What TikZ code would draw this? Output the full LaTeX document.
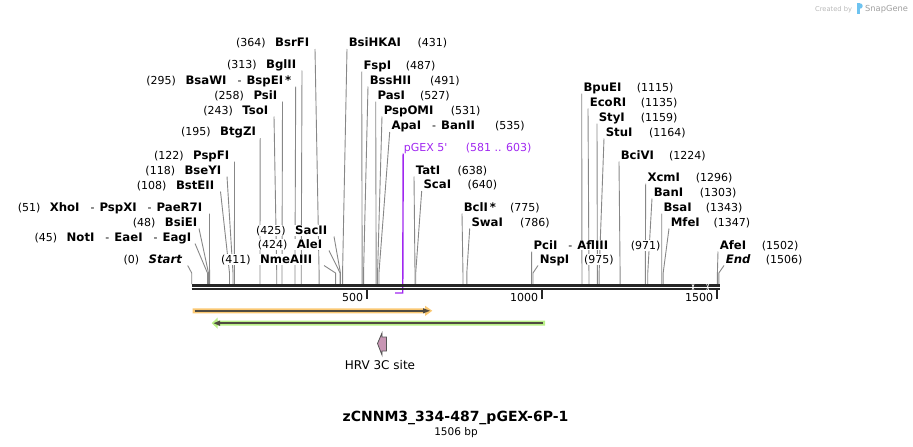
\documentclass[tikz,border=0pt]{standalone}
\usepackage{fontspec}
\setmainfont{DejaVu Sans}
\usetikzlibrary{calc,backgrounds}
\definecolor{lineg}{RGB}{135,135,135}
\definecolor{bbone}{RGB}{38,38,38}
\definecolor{prim}{RGB}{160,40,240}
\definecolor{orf}{RGB}{250,200,115}
\definecolor{grf}{RGB}{185,240,135}
\definecolor{fdark}{RGB}{80,75,65}
\definecolor{hrv}{RGB}{200,150,180}
\definecolor{hrvline}{RGB}{85,85,85}
\definecolor{sgblue}{RGB}{110,195,240}
\tikzset{
  lab/.style={font=\fontsize{11}{13}\selectfont, inner sep=0.6pt, fill=white},
  siteline/.style={draw=lineg, line width=0.9pt},
  primlab/.style={font=\fontsize{11}{13}\selectfont, text=prim, inner sep=0.6pt},
  primline/.style={draw=prim, line width=1.4pt},
  bbline/.style={draw=bbone, line width=2.7pt},
  tickline/.style={draw=bbone, line width=2pt},
  ticklab/.style={font=\fontsize{11}{13}\selectfont, inner sep=0pt},
  featline/.style={draw=fdark, line width=2pt},
}
\newcommand\nm[1]{{\fontsize{11.7}{13}\selectfont\bfseries #1}}
\newcommand\Lsite[7]{%
  \node[lab, anchor=base east] (#1) at (#2,#3) {(#4)\hspace{9.5pt}#5};
  \begin{pgfonlayer}{background}
    \draw[siteline] ($(#1.base east)+(#7,2.5)$) -- ({191.7+0.35*#6},273) -- ({191.7+0.35*#6},284);
  \end{pgfonlayer}}
\newcommand\Rsite[6]{%
  \node[lab, anchor=base west] (#1) at (#2,#3) {#4};
  \node[lab, anchor=base west] (#1n) at (#5,#3) {(#6)};
  \begin{pgfonlayer}{background}
    \draw[siteline] ($(#1.base west)+(-1,2.5)$) -- ({191.7+0.35*#6},273) -- ({191.7+0.35*#6},284);
  \end{pgfonlayer}}
\newcommand\dsep{\hspace{11pt}-\hspace{5pt}}
\begin{document}
\begin{tikzpicture}[x=1pt,y=-1pt]
\useasboundingbox (0,0) rectangle (913,447);
% left labels
\Lsite{BsrFI}{310}{46.5}{364}{\nm{BsrFI}}{364}{5}
\Lsite{BglII}{297}{68}{313}{\nm{BglII}}{313}{5}
\Lsite{BsaWI}{292}{84}{295}{\nm{BsaWI}\dsep\nm{BspEI\,*}}{295}{3.7}
\Lsite{PsiI}{278}{99}{258}{\nm{PsiI}}{258}{4.5}
\Lsite{TsoI}{269}{114}{243}{\nm{TsoI}}{243}{5}
\Lsite{BtgZI}{256.7}{135.5}{195}{\nm{BtgZI}}{195}{3.5}
\Lsite{PspFI}{230}{159}{122}{\nm{PspFI}}{122}{4.5}
\Lsite{BseYI}{222}{174}{118}{\nm{BseYI}}{118}{5}
\Lsite{BstEII}{215}{189}{108}{\nm{BstEII}}{108}{5.5}
\Lsite{XhoI}{203}{211}{51}{\nm{XhoI}\dsep\nm{PspXI}\dsep\nm{PaeR7I}}{51}{6.5}
\Lsite{BsiEI}{198}{226}{48}{\nm{BsiEI}}{48}{1}
\Lsite{NotI}{192}{241}{45}{\nm{NotI}\dsep\nm{EaeI}\dsep\nm{EagI}}{45}{3}
\Lsite{Start}{182.7}{263}{0}{\nm{\itshape Start}}{0}{5}
\Lsite{SacII}{328}{234}{425}{\nm{SacII}}{425}{6}
\Lsite{AleI}{323}{248}{424}{\nm{AleI}}{424}{6}
\Lsite{NmeAIII}{313}{263}{411}{\nm{NmeAIII}}{411}{11}
% right labels
\Rsite{BsiHKAI}{348}{46.5}{\nm{BsiHKAI}}{416.7}{431}
\Rsite{FspI}{362.7}{69}{\nm{FspI}}{405}{487}
\Rsite{BssHII}{369}{84}{\nm{BssHII}}{429.3}{491}
\Rsite{PasI}{376.7}{99}{\nm{PasI}}{419.3}{527}
\Rsite{PspOMI}{383}{114}{\nm{PspOMI}}{450}{531}
\Rsite{ApaI}{390.7}{129.5}{\nm{ApaI}\dsep\nm{BanII}}{494.3}{535}
\Rsite{TatI}{415}{174}{\nm{TatI}}{456.7}{638}
\Rsite{ScaI}{422.7}{188.5}{\nm{ScaI}}{466.7}{640}
\Rsite{BclI}{463}{211}{\nm{BclI\,*}}{509.3}{775}
\Rsite{SwaI}{470.7}{226}{\nm{SwaI}}{519.3}{786}
\Rsite{PciI}{532.7}{249}{\nm{PciI}\dsep\nm{AflIII}}{630}{971}
\Rsite{NspI}{539}{263}{\nm{NspI}}{583.3}{975}
\Rsite{BpuEI}{582.7}{91}{\nm{BpuEI}}{636}{1115}
\Rsite{EcoRI}{589}{106}{\nm{EcoRI}}{640}{1135}
\Rsite{StyI}{598}{121}{\nm{StyI}}{640}{1159}
\Rsite{StuI}{605}{136}{\nm{StuI}}{648.3}{1164}
\Rsite{BciVI}{620}{159}{\nm{BciVI}}{668.3}{1224}
\Rsite{XcmI}{646.7}{181}{\nm{XcmI}}{695}{1296}
\Rsite{BanI}{653}{196}{\nm{BanI}}{699}{1303}
\Rsite{BsaI}{662.7}{211}{\nm{BsaI}}{705}{1343}
\Rsite{MfeI}{670}{226}{\nm{MfeI}}{712.7}{1347}
\Rsite{AfeI}{719}{249}{\nm{AfeI}}{761}{1502}
\Rsite{End}{725}{263}{\nm{\itshape End}}{765}{1506}
% primer
\node[primlab, anchor=base west] (pgex) at (403,151) {pGEX 5\textquotesingle};
\node[primlab, anchor=base west] (pgexn) at (465,151) {(581 .. 603)};
\coordinate (p1) at (402.75,293);
\coordinate (p0) at (395.05,293);
\begin{pgfonlayer}{background}
  \draw[primline] ($(pgex.base west)+(0.2,2.5)$) -- (p1) -- (p0);
\end{pgfonlayer}
% backbone
\coordinate (b0) at (191.7,285.3);
\coordinate (b1) at (720,285.3);
\coordinate (c0) at (191.7,289);
\coordinate (c1) at (720,289);
\draw[bbline] (b0) -- (b1);
\draw[bbline] (c0) -- (c1);
\foreach \bx in {693,707.7}{
  \draw[white, line width=0.6pt] (\bx-1.2,283.6) -- (\bx+1.2,290.6);
  \draw[white, line width=0.6pt] (\bx+1.2,283.6) -- (\bx-1.2,290.6);
}
% ticks
\foreach \t/\n in {500/t500,1000/t1000,1500/t1500}{
  \draw[tickline] ({191.7+0.35*\t},289) -- ({191.7+0.35*\t},298.5);
  \node[ticklab, anchor=base east] (\n) at ({191.7+0.35*\t-3.5},301.3) {\t};
}
% features
\fill[orf] (192.7,308.3) -- (425,308.3) -- (425,305.7) -- (432.3,310.8) -- (425,316) -- (425,313.3) -- (192.7,313.3) -- cycle;
\draw[featline] (194.5,310.8) -- (424,310.8);
\fill[fdark] (423,308.2) -- (430,310.8) -- (423,313.4) -- cycle;
\fill[grf] (545,320.7) -- (217.7,320.7) -- (217.7,317.5) -- (211.7,323.2) -- (217.7,328.7) -- (217.7,325.7) -- (545,325.7) -- cycle;
\draw[featline] (543,323.2) -- (219,323.2);
\fill[fdark] (220,320.5) -- (213.7,323.2) -- (220,325.9) -- cycle;
\filldraw[fill=hrv, draw=hrvline, line width=0.8pt] (377.5,343.5) -- (382,333) -- (382,337) -- (386.5,337) -- (386.5,351) -- (382,351) -- (382,355) -- cycle;
\node[font=\fontsize{12}{14}\selectfont, anchor=base, inner sep=0pt] (hrvlab) at (380,369.5) {HRV 3C site};
% title
\node[font=\fontsize{14}{16}\selectfont\bfseries, anchor=base, inner sep=0pt] (title) at (455.5,421.5) {zCNNM3\_334-487\_pGEX-6P-1};
\node[font=\fontsize{10.5}{12}\selectfont, anchor=base, inner sep=0pt] (bp) at (456,435) {1506 bp};
% credit
\node[font=\fontsize{6.7}{8}\selectfont, text=black!28, anchor=base west, inner sep=0pt] (cb) at (815,11) {Created by};
\fill[sgblue] (856.5,3) rectangle (860,13.5);
\fill[sgblue] (859,3) .. controls (864,3) and (864,9) .. (859,9) -- cycle;
\node[font=\fontsize{8.3}{10}\selectfont, text=black!38, anchor=base west, inner sep=0pt] (sg) at (865,11.5) {SnapGene};
\end{tikzpicture}
\end{document}
